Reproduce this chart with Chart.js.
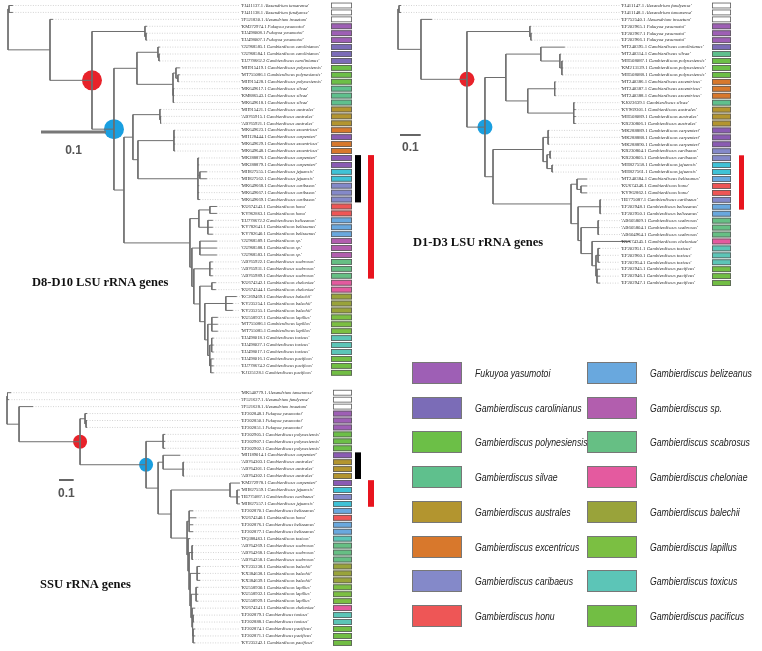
<!DOCTYPE html>
<html><head><meta charset="utf-8">
<script src="https://cdn.jsdelivr.net/npm/chart.js@4.4.1/dist/chart.umd.min.js"></script>
<style>
html,body{margin:0;padding:0;background:#fff}
#wrap{position:relative;width:762px;height:651px;overflow:hidden;background:#fff}
canvas{position:absolute;left:0;top:0}
.lg{position:absolute;font:italic 10.6px "Liberation Sans",Arial,sans-serif;color:#222;white-space:nowrap;line-height:22px;transform:scaleX(0.82);transform-origin:0 50%}
.lb{position:absolute;border:1px solid #777;box-sizing:border-box}
</style></head><body><div id="wrap">
<canvas id="c1" width="762" height="651"></canvas>
<canvas id="c2" width="762" height="651"></canvas>
<canvas id="c3" width="762" height="651"></canvas>
<div id="legend"></div>
</div>
<script>
// ---------------- DATA ----------------
const speciesNames = {
  tam:"Alexandrium tamarense", fun:"Alexandrium fundyense", ins:"Alexandrium insuetum",
  yas:"Fukuyoa yasumotoi", car:"Gambierdiscus carolinianus", pol:"Gambierdiscus polynesiensis",
  sil:"Gambierdiscus silvae", aus:"Gambierdiscus australes", exc:"Gambierdiscus excentricus",
  cpt:"Gambierdiscus carpenteri", jej:"Gambierdiscus jejuensis", cbs:"Gambierdiscus caribaeus",
  hon:"Gambierdiscus honu", bel:"Gambierdiscus belizeanus", sp:"Gambierdiscus sp.",
  sca:"Gambierdiscus scabrosus", che:"Gambierdiscus cheloniae", bal:"Gambierdiscus balechii",
  lap:"Gambierdiscus lapillus", tox:"Gambierdiscus toxicus", pac:"Gambierdiscus pacificus"
};
const legendCodes = ["yas","car","pol","sil","aus","exc","cbs","hon","bel","sp","sca","che","bal","lap","tox","pac"];

// D8-D10 LSU tree
const t1Acc = ["FJ411137.1","FJ411138.1","JF521830.1","KM272974.1","EU498008.1","EU498007.1","GU968585.1","GU968584.1","EU778662.2","MH915419.1","MT755086.1","MH915428.1","MK649617.1","KM886543.1","MK649618.1","MH915421.1","AB765915.1","AB765921.1","MK649623.1","MH128444.1","MK649629.1","MK649648.1","MK288876.1","MK288879.1","MH827555.1","MH827562.1","MK649668.1","MK649667.1","MK649669.1","KU674343.1","KY962863.1","EU778672.2","KY782641.1","KY782640.1","GU968589.1","GU968588.1","GU968583.1","AB765922.1","AB765931.1","AB765989.1","KU674342.1","KU674344.1","KC269469.1","KY235254.1","KY235255.1","KU558937.1","MT755086.1","MT755085.1","EU498018.1","EU498027.1","EU498017.1","EU498016.1","EU778674.2","KJ125128.1"];
const t1Sp = ["tam","fun","ins","yas","yas","yas","car","car","car","pol","pol","pol","sil","sil","sil","aus","aus","aus","exc","cpt","exc","exc","cpt","cpt","jej","jej","cbs","cbs","cbs","hon","hon","bel","bel","bel","sp","sp","sp","sca","sca","sca","che","che","bal","bal","bal","lap","lap","lap","tox","tox","tox","pac","pac","pac"];
// branch lengths in 1e-3 substitutions/site
const t1Newick = "((1:6,2:6):1.5,(3:4.6,((4:3,(5:1.5,6:1.5):1.5):81.5,(((7:3,(8:1.5,9:1.5):1.5):32.3,((10:6,(11:3,12:1.5):3):4.6,(13:1.5,14:1.5,15:1.5):0.5):55.4):35.4,(((16:1.5,(17:1,18:1):1):41.5,((19:1.5,20:1.5,21:1.5,22:1.5):55.4,(23:1.5,24:1.5,(25:10.8,26:10.8):3,27:1.5,28:1.5,29:3):92.3):7.7):13.8,(((30:10.8,31:10.8):16.9,(32:7.7,33:7.7,34:7.7):13.8):13.8,((35:26.2,36:26.2,37:26.2):12.3,((38:4.6,39:4.6,40:4.6):24.6,((41:6.2,42:6.2):18.5,((43:16.9,44:10.8,45:10.8):32.3,((46:9.2,47:9.2,48:9.2):6.2,((49:3,50:3,51:3):3,(52:4.6,53:4.6,54:4.6):1.5):3):4.6):7.7):9.2):3):3):101.5):15.4)blue:33.8)red:64.6):64.6);";
const t1BlackRows = [22, 28];
const t1RedRows = [22, 39];

// D1-D3 LSU tree
const t2Acc = ["FJ411147.1","FJ411148.1","EF752540.1","EF202965.1","EF202967.1","EF202966.1","MT240395.1","MT240314.1","MH508087.1","KM213129.1","MH508088.1","MT240386.1","MT240387.1","MT240388.1","KJ023639.1","KY969301.1","MH508089.1","KR230806.1","MK288889.1","MK288888.1","MK288890.1","KR230804.1","KR230805.1","MH827558.1","MH827561.1","MT240384.1","KU674346.1","KY962862.1","HE775087.1","EF202948.1","EF202950.1","AB605809.1","AB605804.1","AB604964.1","KU674345.1","EF202951.1","EF202960.1","EF202954.1","EF202945.1","EF202946.1","EF202947.1"];
const t2Sp = ["fun","tam","ins","yas","yas","yas","car","sil","pol","pol","pol","exc","exc","exc","sil","aus","aus","aus","cpt","cpt","cpt","cbs","cbs","jej","jej","bel","hon","hon","cbs","bel","bel","sca","sca","sca","che","tox","tox","tox","pac","pac","pac"];
const t2Newick = "((1:9.7,2:9.7):4.8,(3:53,((4:4.8,(5:4.8,6:4.8):4.8):304,(((7:116,(8:4.8,(9:4.8,10:4.8,11:4.8):9.7):92):169,((12:4.8,13:4.8,14:4.8):130,(15:4.8,16:9.7,17:9.7,18:9.7):222):106):101,(((19:4.8,20:4.8,21:4.8):24,((22:4.8,23:4.8):14.5,(24:4.8,25:4.8):24):19):242,((26:48,(27:29,28:29):19):29,((29:4.8,30:4.8,31:4.8):106,((32:4.8,33:4.8,34:4.8):82,(35:184,((36:9.7,37:9.7,38:9.7):9.7,(39:14.5,40:14.5,41:14.5):4.8):19):53):14.5):34):377):39)blue:87)red:222):111);";
const t2RedRows = [22, 29];

// SSU tree
const t3Acc = ["MK540779.1","JF521627.1","JF521628.1","EF202848.1","EF202850.1","EF202851.1","EF202905.1","EF202907.1","EF202902.1","MH189014.1","AB764303.1","AB764301.1","AB764302.1","KM272978.1","MH827559.1","HE775087.1","MH827557.1","EF202870.1","KU674340.1","EF202876.1","EF202877.1","DQ388463.1","AB764269.1","AB764268.1","AB764258.1","KY235238.1","KX384638.1","KX384639.1","KU558930.1","KU558932.1","KU558929.1","KU674341.1","EF202879.1","EF202888.1","EF202874.1","EF202871.1","KY235242.1"];
const t3Sp = ["tam","fun","ins","yas","yas","yas","pol","pol","pol","cpt","aus","aus","aus","cpt","jej","cbs","jej","bel","hon","bel","bel","tox","sca","sca","sca","bal","bal","bal","lap","lap","lap","che","tox","tox","pac","pac","pac"];
const t3Newick = "((1:24,2:10):3.4,(3:95,((4:14,(5:6.8,6:6.8):6.8):34,((7:14,8:14,9:14):116,((10:116,(11:6.8,12:6.8,13:6.8):136):34,((14:68,(15:20,16:20,17:20):48):401,((18:27,19:48,20:27,21:27):14,(22:14,((23:6.8,24:6.8,25:6.8):20,((26:20,27:20,28:20):48,((29:14,30:14,31:14):34,(32:20,((33:6.8,34:6.8):3.4,(35:14,36:14,37:14):3.4):3.4):6.8):6.8):6.8):6.8):6.8):109):88):82)blue:449)red:415):82);";
const t3BlackRows = [9, 12];
const t3RedRows = [13, 16];

const scaleBarValue = 100; // 0.1 substitutions/site in 1e-3 units

// ---------------- STYLE ----------------
const speciesColors = {
  tam:"#ffffff", fun:"#ffffff", ins:"#ffffff",
  yas:"#9e5fb5", car:"#7b6cb7", pol:"#6cbf47", sil:"#5fc08d", aus:"#b3952f",
  exc:"#d8782c", cpt:"#8a5bb3", jej:"#3fc2d6", cbs:"#8489c9", hon:"#ee5656",
  bel:"#69a8de", sp:"#b25eae", sca:"#66bf84", che:"#e45a9f", bal:"#99a33a",
  lap:"#7bbf42", tox:"#5cc5b7", pac:"#72be44"
};

// ---------------- HELPERS ----------------
function parseNewick(s){
  let i = 0, leaf = 0;
  function node(){
    const n = {children:[], name:"", len:0};
    if (s[i] === "("){
      i++; n.children.push(node());
      while (s[i] === ","){ i++; n.children.push(node()); }
      i++;
    }
    let name = ""; while (i < s.length && !":,);".includes(s[i])) name += s[i++];
    n.name = name;
    if (s[i] === ":"){ i++; let num=""; while (i < s.length && !",);".includes(s[i])) num += s[i++]; n.len = parseFloat(num); }
    if (!n.children.length) n.leaf = leaf++;
    return n;
  }
  return node();
}
function layoutTree(n, depth){
  n.x = depth + n.len;
  if (n.children.length){
    n.children.forEach(c => layoutTree(c, n.x));
    n.y = (n.children[0].y + n.children[n.children.length-1].y) / 2;
  } else n.y = n.leaf;
}
function collect(n, segs, leaves, named){
  if (n.name && n.children.length) named[n.name] = n;
  if (n.children.length){
    const f = n.children[0], l = n.children[n.children.length-1];
    segs.push({x:n.x,y:f.y},{x:n.x,y:l.y},{x:null,y:null});
    n.children.forEach(c => {
      segs.push({x:n.x,y:c.y},{x:c.x,y:c.y},{x:null,y:null});
      collect(c, segs, leaves, named);
    });
  } else leaves.push(n);
}

function drawTree(id, newick, acc, sp, L){
  const root = parseNewick(newick);
  root.len = 0;
  layoutTree(root, 0);
  const segs = [], leaves = [], named = {};
  collect(root, segs, leaves, named);
  const W = 762, H = 651;
  const xmin = -L.rootPx / L.ppu, xmax = xmin + W / L.ppu;
  const ymin = -L.row0 / L.step, ymax = ymin + H / L.step;
  const labelVal = (L.labelX - 1 - L.rootPx) / L.ppu;
  const leaders = [];
  leaves.forEach(n => { if (labelVal > n.x) leaders.push({x:n.x,y:n.y},{x:labelVal,y:n.y},{x:null,y:null}); });
  const circ = [named.red, named.blue];

  const decor = {
    id: "decor" + id,
    afterDatasetsDraw(chart){
      const ctx = chart.ctx, xs = chart.scales.x, ys = chart.scales.y;
      const rowH = Math.abs(ys.getPixelForValue(1) - ys.getPixelForValue(0));
      const bh = rowH - 1.2;
      ctx.save();
      sp.forEach((code, i) => {
        const yc = ys.getPixelForValue(i);
        ctx.fillStyle = speciesColors[code];
        ctx.fillRect(L.box[0], yc - bh/2, L.box[1]-L.box[0], bh);
        ctx.strokeStyle = "#5a5a5a"; ctx.lineWidth = 0.8;
        ctx.strokeRect(L.box[0]+0.4, yc - bh/2 + 0.4, L.box[1]-L.box[0]-0.8, bh-0.8);
      });
      ctx.textBaseline = "middle"; ctx.fillStyle = "#2a2a2a";
      acc.forEach((a, i) => {
        const y = ys.getPixelForValue(i);
        const p1 = "'" + a + " ";
        ctx.font = L.fs + 'px "Liberation Serif"';
        ctx.fillText(p1, L.labelX, y);
        const w = ctx.measureText(p1).width;
        ctx.font = "italic " + L.fs + 'px "Liberation Serif"';
        ctx.fillText(speciesNames[sp[i]] + "'", L.labelX + w, y);
      });
      L.bars.forEach(b => {
        const y0 = ys.getPixelForValue(b.rows[0]) - bh/2, y1 = ys.getPixelForValue(b.rows[1]) + bh/2;
        ctx.fillStyle = b.color;
        ctx.fillRect(b.x[0], y0, b.x[1]-b.x[0], y1-y0);
      });
      const v0 = xs.getValueForPixel(L.sb.x);
      const p1 = xs.getPixelForValue(v0 + scaleBarValue);
      ctx.strokeStyle = L.sb.color; ctx.lineWidth = L.sb.lw;
      ctx.beginPath(); ctx.moveTo(L.sb.x, L.sb.y); ctx.lineTo(p1, L.sb.y); ctx.stroke();
      ctx.fillStyle = "#555"; ctx.font = 'bold 12px "Liberation Sans"';
      ctx.textAlign = "center"; ctx.textBaseline = "middle";
      ctx.fillText("0.1", (L.sb.x + p1)/2, L.sb.ty);
      ctx.fillStyle = "#111"; ctx.textAlign = "left";
      ctx.font = 'bold 12.5px "Liberation Serif"';
      ctx.fillText(L.title, L.tx, L.ty);
      ctx.restore();
    }
  };

  new Chart(document.getElementById(id), {
    type: "scatter",
    data: { datasets: [
      { data: segs, showLine: true, borderColor: "#6e6e6e", borderWidth: 1, pointRadius: 0, spanGaps: false, order: 0 },
      { data: leaders, showLine: true, borderColor: "#c9c9c9", borderWidth: 0.8, borderDash: [1,1.5], pointRadius: 0, spanGaps: false, order: 2 },
      { data: circ.map(n => ({x:n.x, y:n.y})), showLine: false, pointRadius: L.r, pointBackgroundColor: ["#e8222a","#1a9fe0"], pointBorderWidth: 0, order: 1 }
    ]},
    options: {
      responsive: false, animation: false, events: [], devicePixelRatio: 1,
      layout: { padding: 0, autoPadding: false },
      plugins: { legend: { display: false }, tooltip: { enabled: false } },
      scales: {
        x: { type: "linear", display: false, min: xmin, max: xmax },
        y: { type: "linear", display: false, min: ymin, max: ymax, reverse: true }
      }
    },
    plugins: [decor]
  });
}

drawTree("c1", t1Newick, t1Acc, t1Sp, {
  rootPx: 8, ppu: 0.65, row0: 5.5, step: 6.93, labelX: 241, fs: 4.6,
  box: [331, 352], r: 10,
  bars: [{rows: t1BlackRows, x: [355, 361], color: "#000"}, {rows: t1RedRows, x: [368, 374], color: "#e8141e"}],
  sb: {x: 41, y: 132, lw: 3, color: "#777", ty: 151},
  title: "D8-D10 LSU rRNA genes", tx: 32, ty: 283
});
drawTree("c2", t2Newick, t2Acc, t2Sp, {
  rootPx: 398, ppu: 0.207, row0: 5.5, step: 6.94, labelX: 621, fs: 4.8,
  box: [712, 731], r: 7.5,
  bars: [{rows: t2RedRows, x: [739, 744], color: "#e8141e"}],
  sb: {x: 400, y: 135, lw: 1.5, color: "#333", ty: 148},
  title: "D1-D3 LSU rRNA genes", tx: 413, ty: 243
});
drawTree("c3", t3Newick, t3Acc, t3Sp, {
  rootPx: 7, ppu: 0.147, row0: 392.7, step: 6.95, labelX: 241, fs: 4.6,
  box: [333, 352], r: 7,
  bars: [{rows: t3BlackRows, x: [355, 361], color: "#000"}, {rows: t3RedRows, x: [368, 374], color: "#e8141e"}],
  sb: {x: 59, y: 480, lw: 1.5, color: "#333", ty: 494},
  title: "SSU rRNA genes", tx: 40, ty: 585
});

const lg = document.getElementById("legend");
legendCodes.forEach((code, i) => {
  const col = i < 8 ? 0 : 1, row = i % 8;
  const left = 412 + col * 175, top = 362 + row * 34.7;
  const b = document.createElement("div");
  b.className = "lb";
  b.style.cssText = `left:${left}px;top:${top}px;width:50px;height:22px;background:${speciesColors[code]}`;
  lg.appendChild(b);
  const t = document.createElement("div");
  t.className = "lg";
  t.style.cssText = `left:${left+63}px;top:${top}px`;
  t.textContent = speciesNames[code];
  lg.appendChild(t);
});
</script></body></html>
